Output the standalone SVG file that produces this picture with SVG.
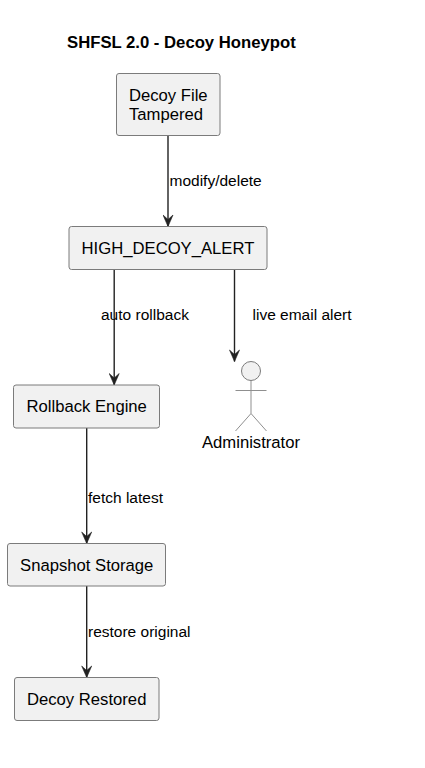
<svg xmlns="http://www.w3.org/2000/svg" width="425" height="768" viewBox="0 0 425 768">
<style>
text{font-family:"Liberation Sans",Arial,sans-serif;fill:#000}
.t{font-size:16.7px;font-weight:700}
.n{font-size:16.67px;text-anchor:middle}
.l{font-size:15.5px}
.b{fill:#f1f1f1;stroke:#7b7b7b;stroke-width:1}
.c{fill:none;stroke:#222;stroke-width:1.4;marker-end:url(#a)}
.s{fill:none;stroke:#8f8f8f;stroke-width:1}
</style>
<defs><marker id="a" markerUnits="userSpaceOnUse" markerWidth="13" markerHeight="11" refX="12.500" refY="5.500" orient="auto" viewBox="0 0 13 11"><path d="M12.500 5.500L1 0.500L5.500 5.500L1 10.500Z" fill="#222" stroke="#222" stroke-width="0.6" stroke-linejoin="round"/></marker></defs>
<rect width="425" height="768" fill="#fff"/>
<text class="t" x="67" y="48">SHFSL 2.0 - Decoy Honeypot</text>
<g id="connectors">
<path class="c" d="M168 135.500V226.500"/>
<path class="c" d="M114.200 269.500V385"/>
<path class="c" d="M234.500 269.500V361.500"/>
<path class="c" d="M86.700 428V543.500"/>
<path class="c" d="M86.700 586V677.500"/>
<text class="l" x="169.500" y="186">modify/delete</text>
<text class="l" x="101" y="319.500">auto rollback</text>
<text class="l" x="252.500" y="319.500">live email alert</text>
<text class="l" x="88" y="502.500">fetch latest</text>
<text class="l" x="88" y="637">restore original</text>
</g>
<g id="decoy-file"><rect class="b" x="116.500" y="73.500" width="103.500" height="62" rx="2.500"/><text class="n" x="168.300" y="101">Decoy File</text><text class="n" x="166" y="120">Tampered</text></g>
<g id="high-decoy-alert"><rect class="b" x="69" y="226.500" width="198" height="43" rx="2.500"/><text class="n" x="168" y="253.500">HIGH_DECOY_ALERT</text></g>
<g id="rollback-engine"><rect class="b" x="13.500" y="385" width="146" height="43" rx="2.500"/><text class="n" x="86.700" y="412">Rollback Engine</text></g>
<g id="snapshot-storage"><rect class="b" x="7.500" y="543.500" width="158" height="42.500" rx="2.500"/><text class="n" x="86.700" y="571">Snapshot Storage</text></g>
<g id="decoy-restored"><rect class="b" x="14.500" y="677.500" width="144.500" height="43" rx="2.500"/><text class="n" x="86.700" y="705">Decoy Restored</text></g>
<g id="administrator"><circle class="b" cx="251" cy="371" r="9.500"/><path class="s" d="M251 381V413.500M235.500 390.500H266.500M251 413.500L235.500 431M251 413.500L266.500 431"/><text class="n" x="251" y="448">Administrator</text></g>
</svg>
